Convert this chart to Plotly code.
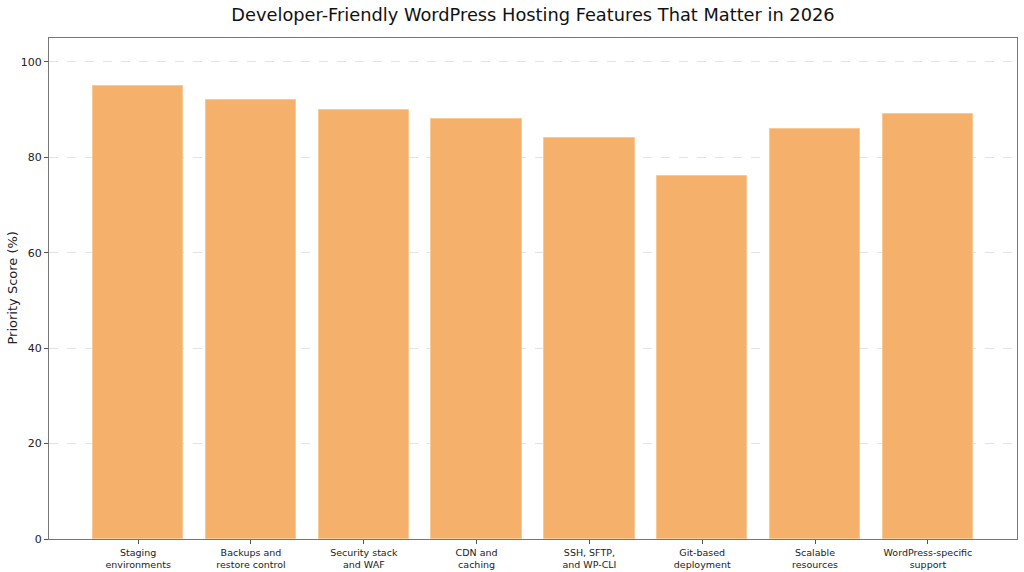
import plotly.graph_objects as go

categories = ["Staging<br>environments", "Backups and<br>restore control", "Security stack<br>and WAF",
              "CDN and<br>caching", "SSH, SFTP,<br>and WP-CLI", "Git-based<br>deployment",
              "Scalable<br>resources", "WordPress-specific<br>support"]
scores = [95, 92, 90, 88, 84, 76, 86, 89]
y_ticks = [0, 20, 40, 60, 80, 100]
y_title = "Priority Score (%)"

fig = go.Figure()
fig.add_trace(go.Bar(
    x=list(range(len(categories))), y=scores, width=0.8,
    marker=dict(color="#F5B16C", line=dict(color="#F9C995", width=1)),
))
fig.update_layout(
    width=1024, height=572,
    margin=dict(l=49, r=7, t=38, b=33),
    plot_bgcolor="white", paper_bgcolor="white",
    font=dict(family="DejaVu Sans", color="#222222"),
    showlegend=False,
    title=dict(text="Developer-Friendly WordPress Hosting Features That Matter in 2026",
               x=0.5, xanchor="center", xref="paper", y=1 - 15 / 572, yanchor="middle",
               font=dict(size=17.8, color="#111111")),
    bargap=0,
)
fig.add_annotation(
    text=y_title, textangle=-90, xref="paper", yref="paper",
    x=(12 - 49) / 968, y=0.5, xanchor="center", yanchor="middle",
    showarrow=False, font=dict(size=13, color="#222222"),
)
fig.update_xaxes(
    range=[-0.79, 7.79], tickmode="array", tickvals=list(range(len(categories))),
    ticktext=categories, tickfont=dict(size=9.5), ticks="outside", ticklen=4,
    tickcolor="#555555", showline=True, linecolor="#777777", linewidth=1.2,
    mirror=True, showgrid=False, zeroline=False, automargin=False,
)
fig.update_yaxes(
    range=[0, 105], tickmode="array", tickvals=y_ticks, tickfont=dict(size=11),
    ticks="outside", ticklen=4, tickcolor="#555555", showline=True,
    linecolor="#777777", linewidth=1.2, mirror=True,
    showgrid=True, gridcolor="#E3E3E3", griddash="dash", gridwidth=0.8,
    zeroline=False, automargin=False,
)
fig.write_html(
    "out.html",
    config={"displayModeBar": False},
    post_script="document.body.style.margin='0';document.body.style.overflow='hidden';",
)
